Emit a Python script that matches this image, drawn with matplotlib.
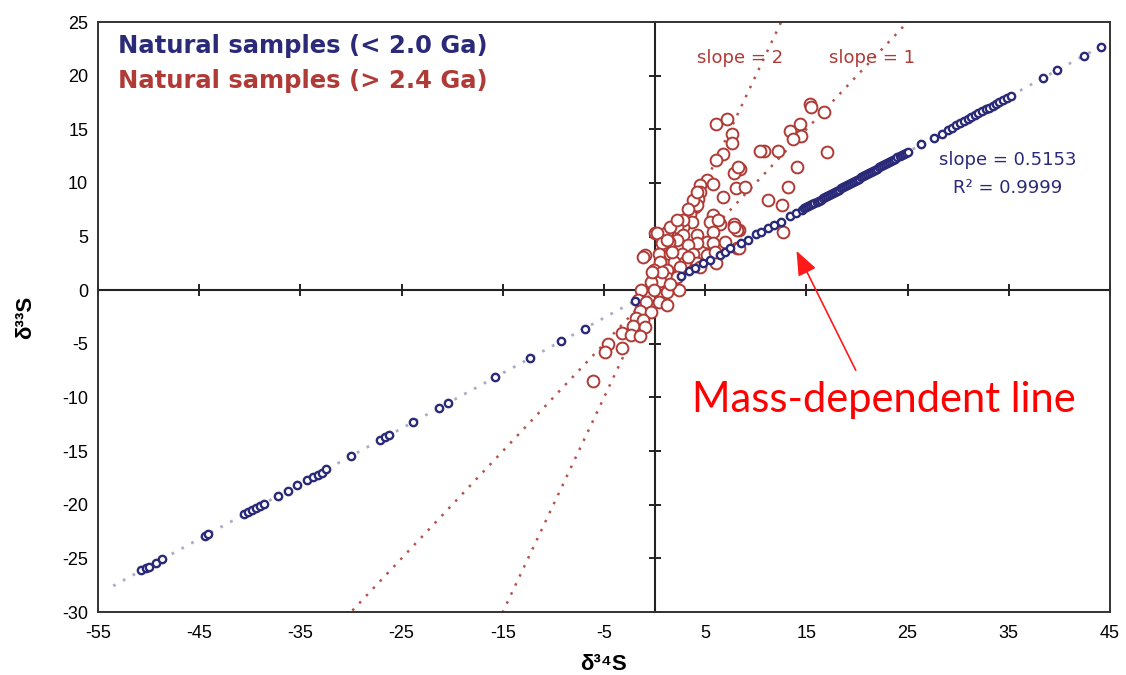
import matplotlib
matplotlib.use("Agg")
import matplotlib.pyplot as plt
import numpy as np

# ---------------- data ----------------
blue_x = [-50.7, -50.3, -50.0, -49.3, -48.7, -44.4, -44.1, -40.6, -40.2, -39.8, -39.4, -39.0, -38.6,
          -37.2, -36.2, -35.3, -34.3, -33.8, -33.3, -32.9, -32.5, -30.0, -27.1, -26.6, -26.2, -23.9,
          -21.3, -20.4, -15.8, -12.3, -9.2, -6.9, -1.9,
          2.6, 3.4, 4.0, 4.8, 5.5, 6.5, 7.0, 7.5, 8.5, 9.2, 10.0, 10.5, 11.2, 11.8, 12.5, 13.4, 14.0,
          14.6, 14.8, 15.0, 15.2, 15.4, 15.6, 15.8, 16.0, 16.2, 16.4, 16.6, 16.8, 17.0, 17.2, 17.4,
          17.6, 17.8, 18.0, 18.2, 18.4, 18.6, 18.8, 19.0, 19.2, 19.4, 19.6, 19.8, 20.0, 20.2, 20.4,
          20.6, 20.8, 21.0, 21.2, 21.4, 21.6, 21.8, 22.0, 22.2, 22.4, 22.6, 22.8, 23.0, 23.2, 23.4,
          23.6, 23.8, 24.0, 24.2, 24.4, 24.6, 24.8, 25.0,
          26.3, 27.6, 28.4, 29.0, 29.4, 29.8, 30.2, 30.6, 31.0, 31.3, 31.7, 32.0, 32.4, 32.7, 33.0,
          33.4, 33.7, 34.0, 34.4, 34.8, 35.2,
          38.4, 39.8, 42.4, 44.1]
blue_y = [-26.1, -25.9, -25.8, -25.4, -25.1, -22.9, -22.7, -20.9, -20.7, -20.5, -20.3, -20.1, -19.9,
          -19.2, -18.7, -18.2, -17.7, -17.4, -17.2, -17.0, -16.7, -15.5, -14.0, -13.7, -13.5, -12.3,
          -11.0, -10.5, -8.1, -6.3, -4.7, -3.6, -1.0,
          1.3, 1.8, 2.1, 2.5, 2.8, 3.3, 3.6, 3.9, 4.4, 4.7, 5.2, 5.4, 5.8, 6.1, 6.4, 6.9, 7.2,
          7.52, 7.63, 7.73, 7.83, 7.94, 8.04, 8.14, 8.24, 8.35, 8.45, 8.55, 8.66, 8.76, 8.86, 8.97,
          9.07, 9.17, 9.28, 9.38, 9.48, 9.58, 9.69, 9.79, 9.89, 10.00, 10.10, 10.20, 10.31, 10.41, 10.51,
          10.62, 10.72, 10.82, 10.92, 11.03, 11.13, 11.23, 11.34, 11.44, 11.54, 11.65, 11.75, 11.85, 11.95, 12.06,
          12.16, 12.26, 12.37, 12.47, 12.57, 12.68, 12.78, 12.88,
          13.6, 14.2, 14.6, 14.9, 15.1, 15.4, 15.6, 15.8, 16.0, 16.1, 16.3, 16.5, 16.7, 16.9, 17.0,
          17.2, 17.4, 17.5, 17.7, 17.9, 18.1,
          19.8, 20.5, 21.8, 22.7]

red_x = [6.1, 7.2, 7.6, 7.6, 6.8, 6.1, 8.4, 7.8, 5.2, 5.8, 4.5, 8.0, 8.9, 4.5, 4.3, 6.8, 4.0, 5.8,
         3.5, 3.7, 6.1, 7.8, 8.3, 2.8, 2.0, 0.05,
         11.2, 12.6, 13.2, 14.1, 10.8, 12.2, 13.4, 14.4, 14.5, 13.7, 15.4, 15.5, 16.7, 17.0, 12.7, 8.2,
         4.2, 2.8, 5.5, 6.5, 8.1, 2.2, 1.2, 0.2, 2.8, 4.2, 5.8, 5.2, 7.0, 5.8, 4.2, 3.3, 2.2, 1.4,
         0.7, 8.1, -0.9, 0.4, 1.5, 2.7, 3.8, 5.2, 0.5, 1.9, 3.0, 4.2, -0.1, 1.2, 2.5, -0.1, 1.2,
         -1.1, 0.5, -0.4, -1.3, -0.1, 1.2, 2.4, -1.6, -0.8, 0.4, 1.2, -1.4, -0.4, -1.8, -1.1, -2.1,
         -0.9, -3.2, -2.3, -1.4, -4.6, -3.2, -4.9, -6.1,
         1.2, 1.7, 3.3, 4.5, 2.5, 2.2, 1.5, 0.7, -0.3,
         6.1, 6.0, 8.3, 10.4, 3.8, 3.3, 6.3, 7.8, 1.5, 2.2, 4.2]
red_y = [15.5, 16.0, 14.6, 13.7, 12.7, 12.1, 11.3, 10.9, 10.3, 9.9, 9.8, 9.5, 9.6, 9.2, 8.5, 8.7, 7.8,
         7.0, 7.1, 6.4, 6.4, 6.2, 5.6, 5.9, 5.6, 5.3,
         8.4, 7.9, 9.6, 11.5, 13.0, 13.0, 14.8, 15.5, 14.4, 14.1, 17.4, 17.1, 16.6, 12.9, 5.4, 11.5,
         7.9, 6.5, 6.4, 6.2, 5.6, 5.9, 5.4, 5.3, 5.1, 5.1, 5.4, 4.5, 4.5, 4.4, 4.4, 4.2, 4.7, 4.5,
         4.4, 3.9, 3.3, 3.4, 3.4, 3.4, 3.4, 3.3, 2.6, 2.6, 2.6, 2.5, 1.9, 1.9, 1.9, 1.1, 1.1,
         3.1, 0.9, 0.8, 0.0, 0.0, -0.2, 0.0, -0.9, -1.1, -1.1, -1.4, -1.9, -2.0, -2.6, -2.8, -3.3,
         -3.4, -4.0, -4.2, -4.3, -5.0, -5.4, -5.8, -8.5,
         4.7, 3.6, 3.1, 2.2, 2.2, 1.2, 0.6, 1.7, 1.7,
         2.5, 3.6, 3.9, 13.0, 8.4, 7.6, 6.5, 5.9, 5.9, 6.5, 9.2]

mdf_slope = 0.5153
mdf_x_range = [-53.5, 44.5]
ref_slopes = [1.0, 2.0]

x_ticks = [-55, -45, -35, -25, -15, -5, 5, 15, 25, 35, 45]
y_ticks = [-30, -25, -20, -15, -10, -5, 0, 5, 10, 15, 20, 25]

# ---------------- figure ----------------
NAVY = "#2a2a78"
RED = "#b03a36"
REDLINE = "#b5524c"
BLUELINE = "#a9adc8"

plt.rcParams['font.family'] = ['Liberation Sans', 'DejaVu Sans']
plt.rcParams['axes.unicode_minus'] = False

fig = plt.figure(figsize=(11.26, 6.75), dpi=100)
pos = [0.087, 0.0933, 0.8988, 0.8741]
ax = fig.add_axes(pos)
ax.set_xlim(-55, 45)
ax.set_ylim(-30, 25)

# reference lines
xl = np.array(mdf_x_range)
ax.plot(xl, mdf_slope * xl, linestyle=(0, (1, 3)), color=BLUELINE, lw=2.0, zorder=2)
xr = np.array([-40.0, 40.0])
for s in ref_slopes:
    ax.plot(xr, s * xr, linestyle=(0, (1, 3)), color=REDLINE, lw=1.8, zorder=2)

ax.scatter(red_x, red_y, s=72, facecolors='white', edgecolors=RED, linewidths=1.4, zorder=3)
ax.scatter(blue_x, blue_y, s=28, facecolors='white', edgecolors=NAVY, linewidths=1.7, zorder=4)

# ticks / labels on outer frame
ax.set_xticks(x_ticks)
ax.set_yticks(y_ticks)
ax.tick_params(axis='x', length=0, pad=9)
ax.tick_params(axis='y', length=0, pad=7)
for lab in ax.get_xticklabels():
    lab.set_fontsize(13)
for lab in ax.get_yticklabels():
    lab.set_fontsize(13)
for sp in ax.spines.values():
    sp.set_linewidth(1.4)
    sp.set_color("#333333")

ax.set_xlabel("δ³⁴S", fontsize=16, fontweight='bold', family=['Liberation Sans', 'DejaVu Sans'], labelpad=9)
ax.set_ylabel("δ³³S", fontsize=16, fontweight='bold', family=['Liberation Sans', 'DejaVu Sans'], labelpad=19)

# overlay axes with zero-crossing axis lines and in-out ticks
ax2 = fig.add_axes(pos, sharex=ax, sharey=ax)
ax2.set_facecolor('none')
ax2.spines['top'].set_visible(False)
ax2.spines['right'].set_visible(False)
ax2.spines['left'].set_position(('data', 0))
ax2.spines['bottom'].set_position(('data', 0))
ax2.spines['left'].set_linewidth(1.5)
ax2.spines['bottom'].set_linewidth(1.5)
ax2.spines['left'].set_color('#222222')
ax2.spines['bottom'].set_color('#222222')
ax2.tick_params(direction='inout', length=9, width=1.4, color='#222222',
                labelleft=False, labelbottom=False)
ax2.set_zorder(ax.get_zorder() - 0.5)
ax.set_zorder(1)
ax.patch.set_visible(False)
fig.patch.set_facecolor('white')

# texts
legfont = ['DejaVu Sans']
ax.text(-53.0, 22.8, "Natural samples (< 2.0 Ga)", color=NAVY, fontsize=17.5,
        fontweight='bold', va='center', ha='left', family=legfont)
ax.text(-53.0, 19.5, "Natural samples (> 2.4 Ga)", color=RED, fontsize=17.5,
        fontweight='bold', va='center', ha='left', family=legfont)
ax.text(8.4, 21.6, "slope = 2", color=RED, fontsize=13, ha='center', va='center', family=legfont)
ax.text(21.5, 21.6, "slope = 1", color=RED, fontsize=13, ha='center', va='center', family=legfont)
ax.text(34.9, 12.1, "slope = 0.5153", color=NAVY, fontsize=13, ha='center', va='center', family=legfont)
ax.text(34.9, 9.5, "R² = 0.9999", color=NAVY, fontsize=13, ha='center', va='center', family=legfont)

ax.annotate("", xy=(13.9, 3.9), xytext=(20.0, -7.7),
            arrowprops=dict(arrowstyle='-|>,head_length=0.75,head_width=0.3', color='#ff1a1a',
                            lw=1.2, mutation_scale=20), zorder=5)
ax.text(22.7, -10.2, "Mass-dependent line", color='#ff0000', fontsize=30,
        family=['Lato', 'DejaVu Sans'], ha='center', va='center')

fig.savefig("out.png", dpi=100)
